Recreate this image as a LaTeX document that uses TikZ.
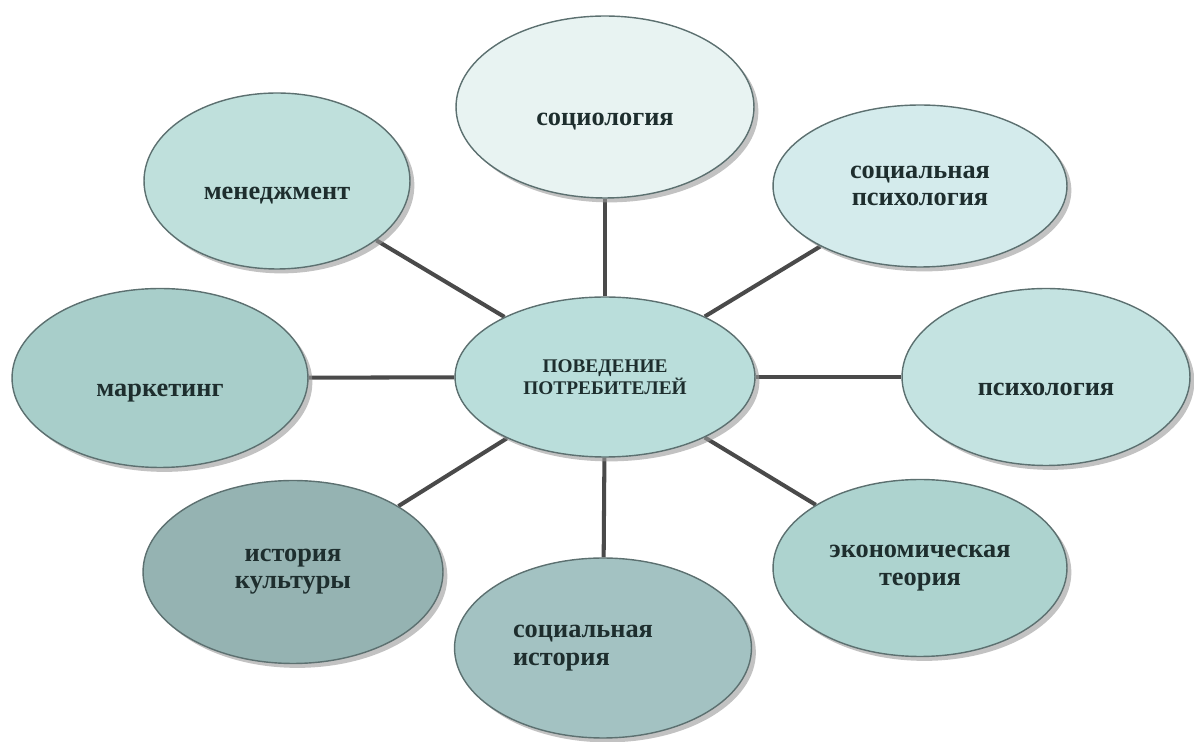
\documentclass[tikz,border=0pt]{standalone}
\usepackage{fontspec}
\setmainfont{Liberation Serif}
\usetikzlibrary{shapes.geometric,shadows,backgrounds}

\definecolor{rimgray}{HTML}{5C7070}
\definecolor{linkgray}{HTML}{4A4A4A}
\definecolor{inkgray}{HTML}{1E2E2E}
\definecolor{cenfill}{HTML}{BADEDB}
\definecolor{socfill}{HTML}{E8F3F2}
\definecolor{menfill}{HTML}{BFE0DC}
\definecolor{spsfill}{HTML}{D4EBEC}
\definecolor{marfill}{HTML}{A8CECA}
\definecolor{psyfill}{HTML}{C4E3E1}
\definecolor{ecofill}{HTML}{ADD3CF}
\definecolor{istfill}{HTML}{95B3B2}
\definecolor{sisfill}{HTML}{A3C2C2}

\tikzstyle{topicnode} = [ellipse, draw=rimgray, line width=0.8pt, inner sep=0pt,
        text=inkgray, font=\bfseries\fontsize{15}{15.5}\selectfont, align=center,
        drop shadow={shadow xshift=2.5pt, shadow yshift=-2.5pt, fill=gray!80, opacity=0.6}]
\tikzstyle{lowtext} = [text height=0.85cm, text depth=0.1cm]
\tikzstyle{linkline} = [draw=linkgray, line width=2.3pt]

\begin{document}
\begin{tikzpicture}[x=0.02cm, y=-0.02cm]
        \useasboundingbox (0,0) rectangle (1194,742);

        \node [topicnode, fill=cenfill, minimum width=6.0cm, minimum height=3.2cm,
               font=\bfseries\fontsize{11}{11.5}\selectfont] (cen) at (605,377) {ПОВЕДЕНИЕ\\ПОТРЕБИТЕЛЕЙ};

        \node [topicnode, lowtext, fill=socfill, minimum width=5.96cm, minimum height=3.64cm] (soc) at (605,107) {социология};
        \node [topicnode, lowtext, fill=menfill, minimum width=5.32cm, minimum height=3.52cm] (men) at (277,181) {менеджмент};
        \node [topicnode, fill=spsfill, minimum width=5.88cm, minimum height=3.24cm] (sps) at (920,186) {социальная\\психология};
        \node [topicnode, lowtext, fill=marfill, minimum width=5.92cm, minimum height=3.58cm] (mar) at (160,378) {маркетинг};
        \node [topicnode, lowtext, fill=psyfill, minimum width=5.76cm, minimum height=3.54cm] (psy) at (1046,377) {психология};
        \node [topicnode, fill=ecofill, minimum width=5.88cm, minimum height=3.54cm] (eco) at (920,568) {экономическая\\теория};
        \node [topicnode, fill=istfill, minimum width=6.0cm, minimum height=3.66cm] (ist) at (293,572) {история\\культуры};
        \node [topicnode, fill=sisfill, minimum width=5.94cm, minimum height=3.6cm,
               text width=3.6cm, align=left] (sis) at (603,648) {социальная\\история};

        \begin{scope}[on background layer]
                \draw [linkline] (cen) -- (soc);
                \draw [linkline] (cen) -- (men);
                \draw [linkline] (cen) -- (sps);
                \draw [linkline] (cen) -- (mar);
                \draw [linkline] (cen) -- (psy);
                \draw [linkline] (cen) -- (eco);
                \draw [linkline] (cen) -- (ist);
                \draw [linkline] (cen) -- (sis);
        \end{scope}

\end{tikzpicture}
\end{document}
